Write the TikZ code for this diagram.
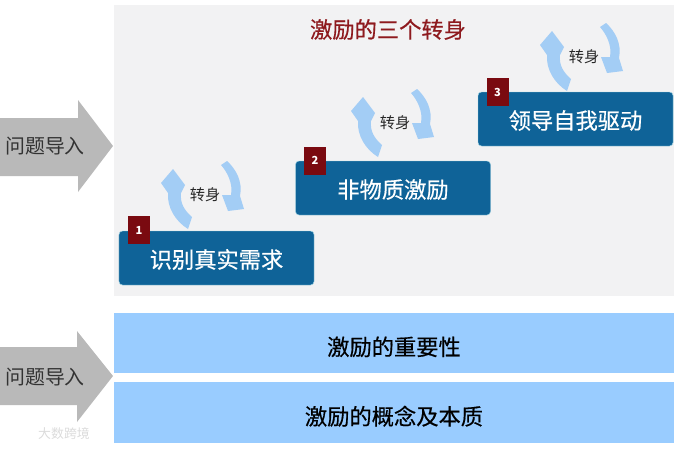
\documentclass[tikz,border=0pt]{standalone}
\usepackage{fontspec}
\setmainfont{Noto Sans CJK SC}
\newfontfamily\semifont[FakeBold=0.5]{Noto Sans CJK SC}
\usepackage{xcolor}
\usetikzlibrary{positioning}
\definecolor{panelgray}{HTML}{F2F2F3}
\definecolor{barblue}{HTML}{99CCFF}
\definecolor{stageblue}{HTML}{0F6398}
\definecolor{badgered}{HTML}{7A0A10}
\definecolor{turnblue}{HTML}{A3CDF5}
\definecolor{titlered}{HTML}{8E1A1E}
\definecolor{leadgray}{HTML}{B9B9B9}
\tikzset{
  stagebox/.style={fill=stageblue,draw=stageblue!70!cyan!40,line width=0.4pt,rounded corners=3pt,text=white,
    minimum width=5.85cm,minimum height=1.62cm,inner sep=0pt,text height=19pt,text depth=2pt,
    font=\semifont\fontsize{19}{19}\selectfont},
  badge/.style={fill=badgered,text=white,minimum width=0.66cm,minimum height=0.84cm,inner sep=0pt,
    font=\fontsize{9.5}{9.5}\selectfont\bfseries},
  barbox/.style={fill=barblue,minimum width=16.8cm,inner sep=0pt,text height=23pt,text depth=2pt,
    font=\semifont\fontsize{19}{19}\selectfont,text=black},
  leadlabel/.style={font=\fontsize{17}{17}\selectfont,text=black!80,inner sep=0pt},
  turnlabel/.style={font=\fontsize{13}{13}\selectfont,text=black!85,inner sep=0pt},
}
\begin{document}
\begin{tikzpicture}[x=0.03cm,y=-0.03cm]
  \useasboundingbox (0,0) rectangle (679,448);
  \fill[panelgray] (114,5) rectangle (674,296);
  \node[font=\semifont\fontsize{19}{19}\selectfont,text=titlered,inner sep=0pt] (title) at (388,29.5) {激励的三个转身};
  % lead-in arrows
  \fill[leadgray] (0,118)--(78,118)--(78,100)--(113,146)--(78,192)--(78,176)--(0,176)--cycle;
  \node[leadlabel] (leadtop) at (45,146) {问题导入};
  \fill[leadgray] (0,347)--(77,347)--(77,331)--(113,376)--(77,422)--(77,405)--(0,405)--cycle;
  \node[leadlabel] (leadbottom) at (45,377) {问题导入};
  % bottom bars
  \node[barbox,minimum height=1.8cm] (barone) at (394,343) {激励的重要性};
  \node[barbox,minimum height=1.83cm] (bartwo) at (394,412.5) {激励的概念及本质};
  \node[text=black!14,font=\fontsize{11}{11}\selectfont,inner sep=0pt] (mark) at (64,434) {大数跨境};
  % turning arrows, one per stage
  \foreach \i/\dx/\dy in {1/0/0,2/190/-72,3/379/-138} {
    \begin{scope}[shift={(\dx,\dy)}]
      \fill[turnblue] (192,217)..controls (184,210) and (180,203)..(181,193)--(185,185)--(173,169)--(161,183)--(168,193)
        ..controls (167,207) and (175,221)..(188,229)--cycle;
      \fill[turnblue] (221,165)..controls (228,173) and (233,184)..(231,195)--(222,195)--(228,211)--(244,209)--(240,196)
        ..controls (243,182) and (236,169)..(227,161)--cycle;
      \node[turnlabel] (turn\i) at (205,195) {转身};
    \end{scope}
  }
  % stages
  \node[stagebox] (stage1) at (216.5,258) {识别真实需求};
  \node[stagebox] (stage2) at (393,188) {非物质激励};
  \node[stagebox] (stage3) at (575.5,119) {领导自我驱动};
  \node[badge] (num1) at (139,230) {1};
  \node[badge] (num2) at (315,160.5) {2};
  \node[badge] (num3) at (497.5,92) {3};
\end{tikzpicture}
\end{document}
